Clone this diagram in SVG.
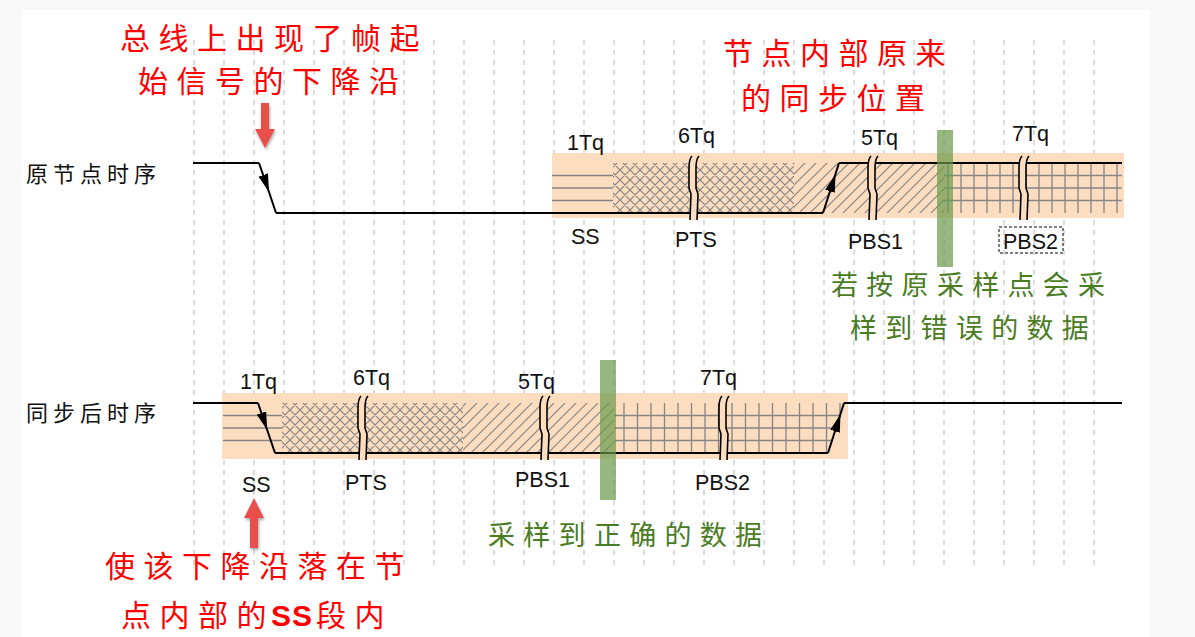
<svg xmlns="http://www.w3.org/2000/svg" width="1195" height="637" viewBox="0 0 1195 637">
<style>
.cn{font-family:"Noto Sans CJK SC","Noto Sans",sans-serif}
.red{fill:#ff0000;font-size:30px;letter-spacing:8.5px}
.grn{fill:#4a7c23;font-size:27px;letter-spacing:8.3px}
.blk{fill:#111;font-size:22px;letter-spacing:5px}
.lat{font-family:"Liberation Sans",Arial,sans-serif;font-size:21.5px;fill:#111}
.band{fill:#fcddc0}
.hl{stroke:#858585;stroke-width:1.3;fill:none}
.wave{stroke:#000;stroke-width:2;fill:none}
.edge{stroke:#000;stroke-width:2;fill:none;marker-mid:url(#ah)}
.gridl{stroke:#b8b8b8;stroke-width:1;stroke-dasharray:5 5;fill:none}
.sbar{fill:#6a9a4a;opacity:0.7}
.rarrow{fill:#e8504c;filter:url(#sh)}
</style>
<defs>
<marker id="ah" viewBox="0 0 18 10" refX="18" refY="5" markerWidth="18" markerHeight="10" markerUnits="userSpaceOnUse" orient="auto"><path d="M0,0 L18,5 L0,10 Z" fill="#000"/></marker>
<pattern id="xh" width="10" height="10" patternUnits="userSpaceOnUse"><path d="M0,0 L10,10 M10,0 L0,10 M-1,9 L1,11 M9,-1 L11,1 M-1,1 L1,-1 M9,11 L11,9" stroke="#858585" stroke-width="1.2" fill="none"/></pattern>
<pattern id="dh" width="11" height="11" patternUnits="userSpaceOnUse"><path d="M0,11 L11,0 M-2,2 L2,-2 M9,13 L13,9" stroke="#858585" stroke-width="1.2" fill="none"/></pattern>
<clipPath id="cpB"><polygon points="614,403 844,403 828,453 614,453"/></clipPath>
<filter id="sh" x="-50%" y="-50%" width="200%" height="200%"><feGaussianBlur in="SourceAlpha" stdDeviation="1.5"/><feOffset dx="1" dy="2" result="o"/><feComponentTransfer><feFuncA type="linear" slope="0.35"/></feComponentTransfer><feMerge><feMergeNode/><feMergeNode in="SourceGraphic"/></feMerge></filter>
<g id="brk">
<path d="M3,-7 Q0,-4 0,5 L0,25 L2,31 L1,57 L8,57 L9,31 L7,25 L7,5 Q7,-4 10,-7 Z" fill="#fcddc0"/>
<path d="M3,-7 Q0,-4 0,5 L0,25 L2,31 L1,57 M10,-7 Q7,-4 7,5 L7,25 L9,31 L8,57" fill="none" stroke="#000" stroke-width="1.6"/>
</g>
</defs>

<g id="background">
<rect x="0" y="0" width="1195" height="637" fill="#f8f8f8"/>
<rect x="22" y="10" width="1128" height="627" fill="#ffffff"/>
</g>

<g id="timegrid">
<path class="gridl" d="M194,40V567M224,40V567M254,40V567M284,40V567M314,40V567M344,40V567M374,40V567M404,40V567M434,40V567M464,40V567M494,40V567M524,40V567M554,40V567M584,40V567M614,40V567M644,40V567M674,40V567M704,40V567M734,40V567M764,40V567M794,40V567M824,40V567M854,40V567M884,40V567M914,40V567M944,40V567M974,40V567M1004,40V567M1034,40V567M1064,40V567M1094,40V567"/>
</g>

<g id="wave-original">
<rect class="band" x="552" y="153" width="572" height="65"/>
<path class="hl" d="M552,175.5H613M552,188H613M552,200.5H613"/>
<rect x="613" y="163" width="181" height="50" fill="url(#xh)"/>
<rect x="794" y="163" width="150" height="50" fill="url(#dh)"/>
<path class="hl" d="M944,175.5H1122M944,188H1122M944,200.5H1122M948,163V213M961,163V213M974,163V213M987,163V213M1000,163V213M1013,163V213M1026,163V213M1039,163V213M1052,163V213M1065,163V213M1078,163V213M1091,163V213M1104,163V213M1117,163V213"/>
<path class="wave" d="M193,163H259M276,213H823M839,163H1122"/>
<path class="edge" d="M259,163L269,192L276,213"/>
<path class="edge" d="M823,213L835.5,174L839,163"/>
<use href="#brk" x="689" y="163"/>
<use href="#brk" x="868" y="163"/>
<use href="#brk" x="1019" y="163"/>
<text class="cn blk" x="26" y="182">原节点时序</text>
<text class="lat" x="567" y="150">1Tq</text>
<text class="lat" x="678" y="143">6Tq</text>
<text class="lat" x="861" y="145">5Tq</text>
<text class="lat" x="1012" y="141">7Tq</text>
<text class="lat" x="571" y="244">SS</text>
<text class="lat" x="675" y="247">PTS</text>
<text class="lat" x="848" y="249">PBS1</text>
<text class="lat" x="1003" y="249">PBS2</text>
<rect x="999" y="227" width="64" height="26" fill="none" stroke="#000" stroke-width="1" stroke-dasharray="3 2"/>
</g>

<g id="wave-synced">
<rect class="band" x="222" y="393" width="626" height="66"/>
<path class="hl" d="M223,415.5H282M223,428H282M223,440.5H282"/>
<rect x="282" y="403" width="181" height="50" fill="url(#xh)"/>
<rect x="463" y="403" width="151" height="50" fill="url(#dh)"/>
<path class="hl" clip-path="url(#cpB)" d="M614,415.5H846M614,428H846M614,440.5H846M624,403V453M637.5,403V453M651,403V453M664.5,403V453M678,403V453M691.5,403V453M705,403V453M718.5,403V453M732,403V453M745.5,403V453M759,403V453M772.5,403V453M786,403V453M799.5,403V453M813,403V453M826.5,403V453M840,403V453"/>
<path class="wave" d="M193,403H258M275,453H828M844,403H1122"/>
<path class="edge" d="M258,403L267.2,430L275,453"/>
<path class="edge" d="M828,453L840.5,414L844,403"/>
<use href="#brk" x="358" y="403"/>
<use href="#brk" x="540" y="403"/>
<use href="#brk" x="719" y="403"/>
<text class="cn blk" x="26" y="421">同步后时序</text>
<text class="lat" x="240" y="389">1Tq</text>
<text class="lat" x="353" y="385">6Tq</text>
<text class="lat" x="518" y="389">5Tq</text>
<text class="lat" x="700" y="385">7Tq</text>
<text class="lat" x="242" y="492">SS</text>
<text class="lat" x="345" y="490">PTS</text>
<text class="lat" x="515" y="487">PBS1</text>
<text class="lat" x="695" y="490">PBS2</text>
</g>

<g id="sample-orig">
<rect class="sbar" x="937" y="130" width="16" height="137"/>
<text class="cn grn" x="831" y="295">若按原采样点会采</text>
<text class="cn grn" x="850" y="338">样到错误的数据</text>
</g>

<g id="sample-sync">
<rect class="sbar" x="600" y="360" width="16" height="140"/>
<text class="cn grn" x="488" y="545">采样到正确的数据</text>
</g>

<g id="note-bus">
<text class="cn red" x="120" y="49">总线上出现了帧起</text>
<text class="cn red" x="138" y="92">始信号的下降沿</text>
</g>

<g id="note-node">
<text class="cn red" x="723" y="64">节点内部原来</text>
<text class="cn red" x="741" y="109">的同步位置</text>
</g>

<g id="note-ss">
<text class="cn red" x="105" y="577">使该下降沿落在节</text>
<text class="cn red" x="121" y="626">点内部的<tspan x="271" style="font-family:'Liberation Sans',Arial,sans-serif;font-weight:bold;letter-spacing:1px">SS</tspan><tspan x="316">段内</tspan></text>
</g>

<g id="connectors">
<polygon class="rarrow" points="261,103 269,103 269,129 275,129 265,148 255,129 261,129"/>
<polygon class="rarrow" points="254,498 264,518 258,518 258,548 250,548 250,518 244,518"/>
</g>
</svg>
